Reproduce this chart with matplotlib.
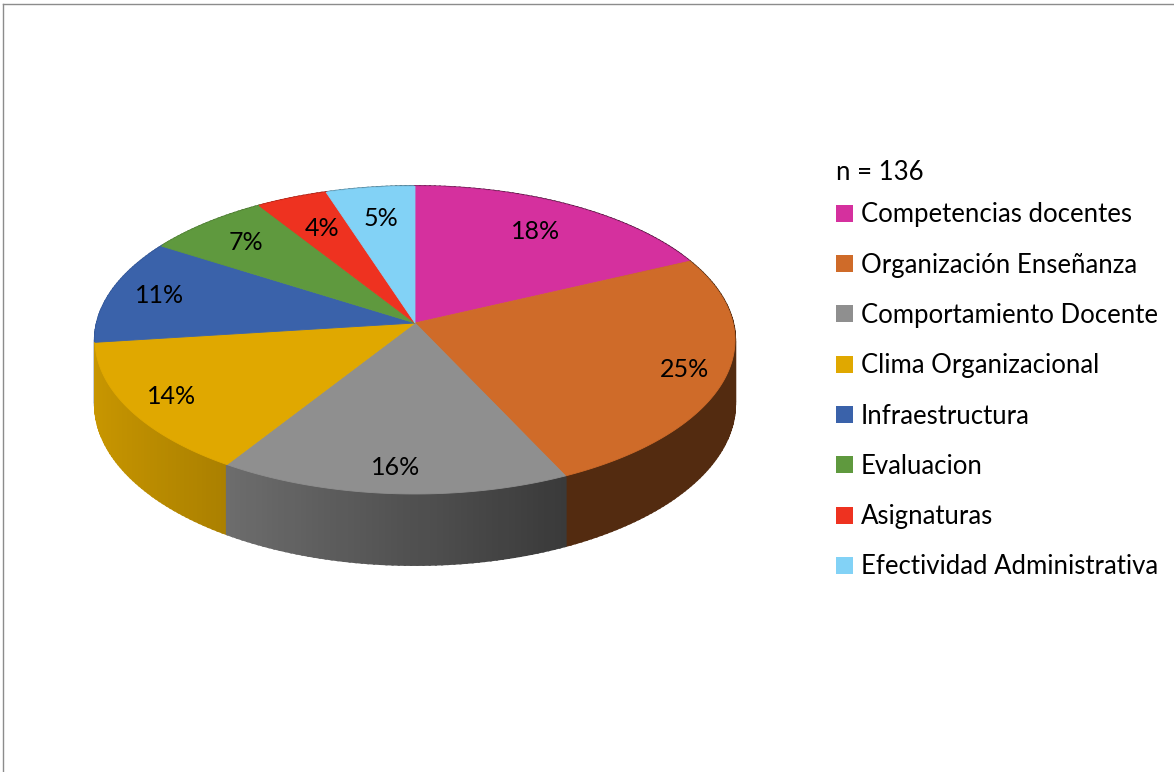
import numpy as np
import matplotlib.pyplot as plt
from matplotlib.patches import Patch
from matplotlib.lines import Line2D

# data
categories = ['Competencias docentes', 'Organización Enseñanza', 'Comportamiento Docente',
              'Clima Organizacional', 'Infraestructura', 'Evaluacion', 'Asignaturas',
              'Efectividad Administrativa']
values = [18, 25, 16, 14, 11, 7, 4, 5]
colors = ['#D5309E', '#CF6B29', '#8F8F8F', '#E0A800', '#3A62AA', '#5F993E', '#EE3220', '#82D2F6']
n_total = 136

# where each percent label sits along its slice (fraction of radius)
label_frac = [0.76, 0.87, 0.86, 0.86, 0.84, 0.80, 0.74, 0.75]

plt.rcParams['font.family'] = ['Lato', 'DejaVu Sans']

# 3D pie geometry (pixels)
CX, CY = 415, 323      # apex of the pie
R, RT = 318, 152       # horizontal radius, tilted radius
K = 0.111              # perspective strength
H = 63                 # thickness


def proj(X, Z, drop=0.0):
    s = 1.0 / (1.0 + K * Z)
    return CX + R * X * s, CY - RT * Z * s + H * s * drop


def shade(X):
    return np.interp(X, [-1, -0.53, 0.43, 1], [0.90, 0.76, 0.40, 0.40])


fig = plt.figure(figsize=(11.74, 7.72), dpi=100)
ax = fig.add_axes([0, 0, 1, 1])
ax.set_xlim(0, 1174)
ax.set_ylim(772, 0)
ax.axis('off')

total = sum(values)
bounds = np.concatenate([[0], np.cumsum(values)]) / total * 2 * np.pi

# side walls, drawn back to front
segs = []
for i in range(len(values)):
    a, b = bounds[i], bounds[i + 1]
    ts = np.linspace(a, b, max(int(np.degrees(b - a)) + 2, 3))
    for t0, t1 in zip(ts[:-1], ts[1:]):
        tm = (t0 + t1) / 2
        segs.append((np.cos(tm), t0, t1, i))
segs.sort(key=lambda s: -s[0])
for zm, t0, t1, i in segs:
    x0, y0 = proj(np.sin(t0), np.cos(t0))
    x1, y1 = proj(np.sin(t1), np.cos(t1))
    x2, y2 = proj(np.sin(t1), np.cos(t1), 1)
    x3, y3 = proj(np.sin(t0), np.cos(t0), 1)
    base = np.array(plt.matplotlib.colors.to_rgb(colors[i]))
    c = base * shade(np.sin((t0 + t1) / 2))
    ax.fill([x0, x1, x2, x3], [y0, y1, y2, y3], color=c, lw=1.6)

# top faces
for i in range(len(values)):
    a, b = bounds[i], bounds[i + 1]
    ts = np.linspace(a, b, 200)
    xs, ys = proj(np.sin(ts), np.cos(ts))
    ax.fill(np.r_[CX, xs], np.r_[CY, ys], color=colors[i], lw=0.6)

# percent labels
for i, v in enumerate(values):
    tm = (bounds[i] + bounds[i + 1]) / 2
    f = label_frac[i]
    x, y = proj(f * np.sin(tm), f * np.cos(tm))
    ax.text(x, y, f'{v}%', ha='center', va='center', fontsize=18, color='black')

# legend
ax.text(836, 172, f'n = {n_total}', ha='left', va='center', fontsize=18.5)
handles = [Patch(facecolor=c, edgecolor='none') for c in colors]
leg = ax.legend(handles, categories, loc='upper left',
                bbox_to_anchor=(826, 192), bbox_transform=ax.transData,
                frameon=False, fontsize=18.5,
                handlelength=0.65, handleheight=0.65, handletextpad=0.3,
                labelspacing=0.985, borderaxespad=0)

# partial frame of the chart area
fig.add_artist(Line2D([3 / 1174, 1], [1 - 4 / 772, 1 - 4 / 772], color='#8c8c8c', lw=1))
fig.add_artist(Line2D([3 / 1174, 3 / 1174], [0, 1 - 4 / 772], color='#8c8c8c', lw=1))

fig.savefig('out.png', dpi=100)
